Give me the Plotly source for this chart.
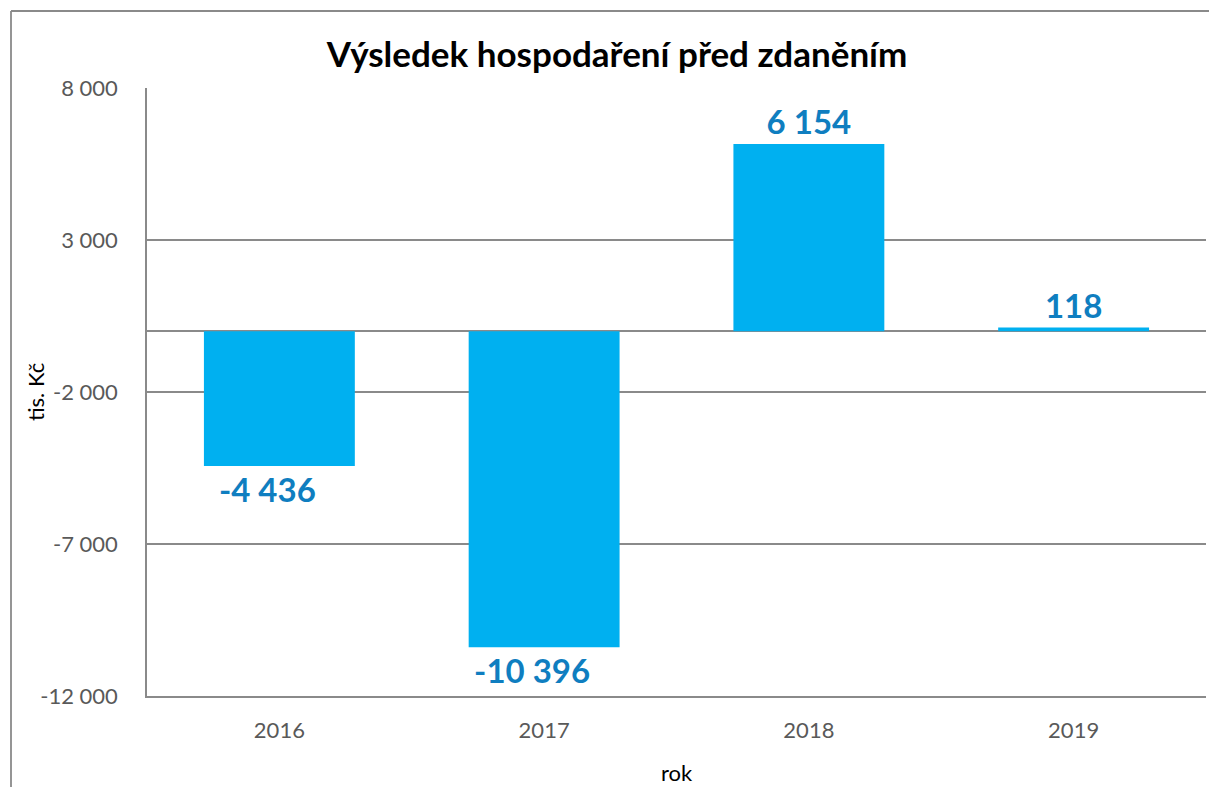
import plotly.graph_objects as go

# ---- data ----
years = ["2016", "2017", "2018", "2019"]
values = [-4436, -10396, 6154, 118]
y_tick_vals = [8000, 3000, -2000, -7000, -12000]
y_tick_text = ["8 000", "3 000", "-2 000", "-7 000", "-12 000"]
title_text = "Výsledek hospodaření před zdaněním"
y_title = "tis. Kč"
x_title = "rok"


def fmt(v):
    s = f"{v:,}".replace(",", " ")
    # Excel-style negative format keeps a trailing padding space
    return s + "\u00a0\u00a0\u00a0" if v < 0 else s


labels = [fmt(v) for v in values]

W, H = 1209, 787
L, R, T, B = 147, 1206, 88, 696  # plot area in pixels
pw, ph = R - L, B - T


def px(x):
    return (x - L) / pw


def py(y):
    return (B - y) / ph


FONT = "Lato"
GRID = "#8a8a8a"

fig = go.Figure()
fig.add_trace(go.Bar(
    x=years, y=values,
    marker=dict(color="#00B0F0", line=dict(width=0)),
    width=0.57,
    text=labels,
    textposition="outside",
    textfont=dict(family=FONT, size=33, color="#0F7EC0", weight="bold"),
    cliponaxis=False,
    hoverinfo="skip",
))

fig.update_layout(
    width=W, height=H,
    margin=dict(l=L, r=W - R, t=T, b=H - B, pad=0),
    paper_bgcolor="white", plot_bgcolor="white",
    showlegend=False,
    font=dict(family=FONT, color="#595959"),
    title=dict(
        text=title_text,
        font=dict(family=FONT, size=35, color="black", weight="bold"),
        xref="container", x=617 / W, xanchor="center",
        yref="container", y=1 - 55 / H, yanchor="middle",
    ),
)

fig.update_xaxes(
    showgrid=False, showline=True, linecolor=GRID, linewidth=1.5,
    ticks="", tickfont=dict(family=FONT, size=22, color="#595959"),
    ticklabelstandoff=14, mirror=False,
)
fig.update_yaxes(
    range=[-12000, 8000], tickvals=y_tick_vals, ticktext=y_tick_text,
    showgrid=True, gridcolor=GRID, gridwidth=1.5,
    zeroline=True, zerolinecolor=GRID, zerolinewidth=1.8,
    showline=True, linecolor=GRID, linewidth=1.5,
    ticks="", tickfont=dict(family=FONT, size=22, color="#595959"),
    ticklabelstandoff=23,
)

# axis titles
fig.add_annotation(text=y_title, xref="paper", yref="paper",
                   x=px(35), y=0.5, textangle=-90, showarrow=False,
                   font=dict(family=FONT, size=22, color="black"),
                   xanchor="center", yanchor="middle")
fig.add_annotation(text=x_title, xref="paper", yref="paper",
                   x=px(677), y=py(772), showarrow=False,
                   font=dict(family=FONT, size=22, color="black"),
                   xanchor="center", yanchor="middle")

# outer chart border (left and top visible)
bx, by = 11, 11
fig.add_shape(type="line", xref="paper", yref="paper",
              x0=px(bx), x1=px(bx), y0=py(by), y1=py(H + 20),
              line=dict(color=GRID, width=1.8))
fig.add_shape(type="line", xref="paper", yref="paper",
              x0=px(bx), x1=px(W + 20), y0=py(by), y1=py(by),
              line=dict(color=GRID, width=1.8))

fig.write_html(
    "out.html",
    config={"displayModeBar": False},
    post_script="document.body.style.margin='0';document.body.style.overflow='hidden';",
)
